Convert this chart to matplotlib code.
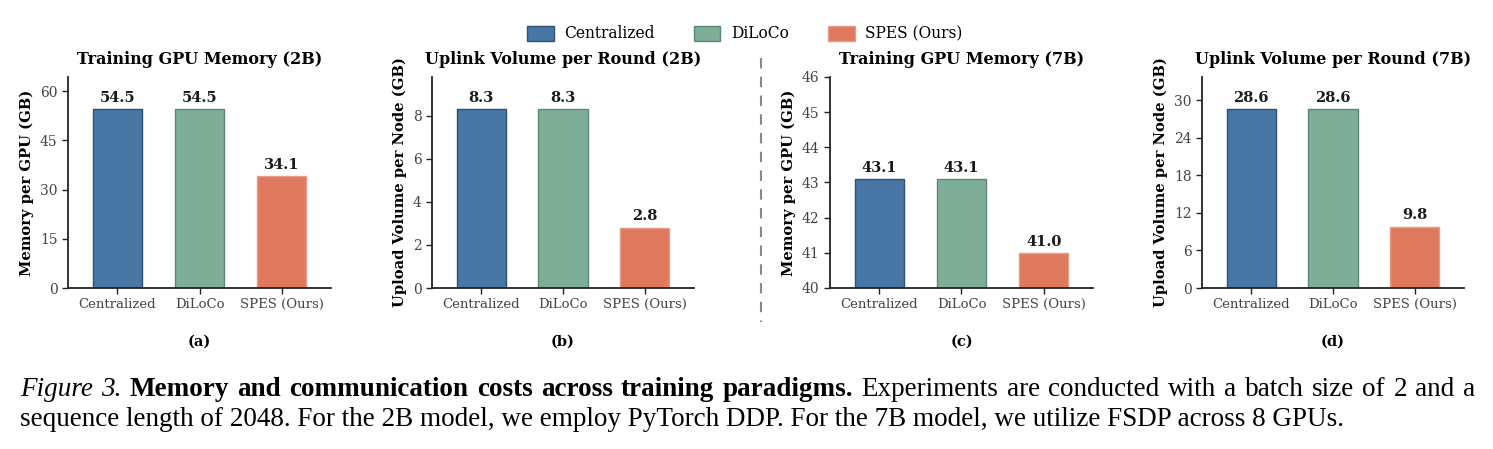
import matplotlib
matplotlib.use("Agg")
from matplotlib import pyplot as plt
from matplotlib.patches import Patch

methods = ["Centralized", "DiLoCo", "SPES (Ours)"]
mem_2b = [54.5, 54.5, 34.1]
uplink_2b = [8.3, 8.3, 2.8]
mem_7b = [43.1, 43.1, 41.0]
uplink_7b = [28.6, 28.6, 9.8]

titles = ["Training GPU Memory (2B)", "Uplink Volume per Round (2B)",
          "Training GPU Memory (7B)", "Uplink Volume per Round (7B)"]
ylabels = ["Memory per GPU (GB)", "Upload Volume per Node (GB)",
           "Memory per GPU (GB)", "Upload Volume per Node (GB)"]
panel_tags = ["(a)", "(b)", "(c)", "(d)"]
yticks = [[0, 15, 30, 45, 60], [0, 2, 4, 6, 8], [40, 41, 42, 43, 44, 45, 46], [0, 6, 12, 18, 24, 30]]

colors = ["#4877a6", "#7eae98", "#e07a5f"]
edges = ["#2c5078", "#5a8a75", "#e89a84"]

plt.rcParams["font.family"] = "DejaVu Serif"

W, H = 1493, 449
fig = plt.figure(figsize=(W / 100, H / 100), dpi=100)

# axes boxes in pixels: left, right
boxes = [(68, 331), (432, 694), (830, 1093), (1202, 1464)]
top, bottom = 77, 288

datasets = [mem_2b, uplink_2b, mem_7b, uplink_7b]
for i, data in enumerate(datasets):
    l, r = boxes[i]
    ax = fig.add_axes([l / W, 1 - bottom / H, (r - l) / W, (bottom - top) / H])
    x = range(len(methods))
    ax.bar(x, data, width=0.6, color=colors, edgecolor=edges, linewidth=1.0)
    if i == 2:
        ax.set_ylim(40, 46)
        off = 0.12
    else:
        ax.set_ylim(0, max(data) * 1.18)
        off = max(data) * 0.025
    for xi, v in zip(x, data):
        ax.text(xi, v + off, f"{v:.1f}", ha="center", va="bottom",
                fontsize=10.5, fontweight="bold", color="#1a1a1a")
    ax.set_xlim(-0.6, 2.6)
    ax.set_xticks(list(x))
    ax.set_xticklabels(methods, fontsize=9.5, color="#444444")
    ax.set_yticks(yticks[i])
    ax.tick_params(axis="y", labelsize=10, colors="#444444")
    ax.tick_params(axis="both", length=4, width=1, color="#222222")
    ax.set_title(titles[i], fontsize=11.5, fontweight="bold", pad=9)
    ax.set_ylabel(ylabels[i], fontsize=10.6, fontweight="bold", labelpad=4)
    for s in ["top", "right"]:
        ax.spines[s].set_visible(False)
    for s in ["left", "bottom"]:
        ax.spines[s].set_linewidth(1.3)
        ax.spines[s].set_color("#222222")
    fig.text((l + r) / 2 / W, 1 - 342 / H, panel_tags[i], ha="center", va="center",
             fontsize=10.5, fontweight="bold")

# shared legend
handles = [Patch(facecolor=c, edgecolor=e, linewidth=1.0) for c, e in zip(colors, edges)]
fig.legend(handles, methods, loc="center", bbox_to_anchor=(745 / W, 1 - 34 / H),
           ncol=3, frameon=False, fontsize=11.2, handlelength=1.7, handleheight=1.1,
           columnspacing=2.5, handletextpad=0.7)

# dashed separator
fig.add_artist(plt.Line2D([761 / W, 761 / W], [1 - 58 / H, 1 - 322 / H],
                          color="#888888", linestyle="--", linewidth=1.5, dashes=(5, 4)))

# caption (first line justified to the right edge)
renderer = fig.canvas.get_renderer()
cap_font = "Liberation Serif"
cap_size = 19.5
parts = [("Figure 3.", "italic", "normal"),
         ("Memory and communication costs across training paradigms.", "normal", "bold"),
         ("Experiments are conducted with a batch size of 2 and a", "normal", "normal")]
words = []
for txt, style, weight in parts:
    for w in txt.split(" "):
        t = fig.text(0, 0, w, fontsize=cap_size, family=cap_font, style=style,
                     fontweight=weight, va="baseline", ha="left")
        words.append((t, t.get_window_extent(renderer).width))
x0, x1 = 20, 1475
gap = (x1 - x0 - sum(w for _, w in words)) / (len(words) - 1)
xpos = x0
for t, w in words:
    t.set_position((xpos / W, 1 - 396 / H))
    xpos += w + gap
fig.text(x0 / W, 1 - 426 / H,
         "sequence length of 2048. For the 2B model, we employ PyTorch DDP. For the 7B model, we utilize FSDP across 8 GPUs.",
         fontsize=cap_size, family=cap_font, va="baseline", ha="left")

fig.savefig("out.png", dpi=100)
